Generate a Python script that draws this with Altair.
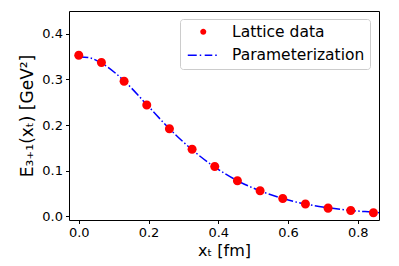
import altair as alt
import pandas as pd

# Lattice data
lat_x = [0.0, 0.065, 0.130, 0.195, 0.260, 0.325, 0.390, 0.455, 0.520, 0.585, 0.650, 0.715, 0.780, 0.845]
lat_y = [0.353, 0.337, 0.296, 0.244, 0.192, 0.147, 0.109, 0.078, 0.056, 0.039, 0.027, 0.018, 0.013, 0.008]

# Parameterization curve
par_x = [0.0, 0.033, 0.065, 0.130, 0.195, 0.260, 0.325, 0.390, 0.455, 0.520, 0.585, 0.650, 0.715, 0.780, 0.845, 0.861]
par_y = [0.350, 0.347, 0.336, 0.297, 0.245, 0.192, 0.146, 0.108, 0.078, 0.056, 0.039, 0.027, 0.019, 0.013, 0.009, 0.008]

series = ["Lattice data", "Parameterization"]
x_ticks = [0.0, 0.1, 0.2, 0.3, 0.4, 0.5, 0.6, 0.7, 0.8]
y_ticks = [0.0, 0.1, 0.2, 0.3, 0.4]

pts = pd.DataFrame({"x": lat_x, "y": lat_y, "series": series[0]})
crv = pd.DataFrame({"x": par_x, "y": par_y})

circle_path = "M-0.43,0A0.43,0.43 0 1,0 0.43,0A0.43,0.43 0 1,0 -0.43,0Z"
h = 0.107
segs = [(-2.21, -0.93), (-0.5, -0.29), (0.21, 1.29), (1.71, 1.93)]
dashdot_path = "".join(f"M{a},{-h}H{b}V{h}H{a}Z" for a, b in segs)

xs = alt.Scale(domain=[-0.028, 0.861], nice=False, zero=False)
ys = alt.Scale(domain=[-0.008, 0.45], nice=False, zero=False)

x_axis = alt.Axis(values=x_ticks, format=".1f", title="xₜ [fm]", grid=False, domain=False,
                  tickSize=3.5, tickColor="black", labelColor="black", labelFontSize=13,
                  labelPadding=3, titleFontSize=16, titleFontWeight="normal", titleColor="black",
                  titlePadding=3, labelFont="DejaVu Sans", titleFont="DejaVu Sans")
y_axis = alt.Axis(values=y_ticks, format=".1f", title="E₃₊₁(xₜ) [GeV²]", grid=False, domain=False,
                  tickSize=3.5, tickColor="black", labelColor="black", labelFontSize=13,
                  labelPadding=3, titleFontSize=17, titleFontWeight="normal", titleColor="black",
                  titlePadding=5, labelFont="DejaVu Sans", titleFont="DejaVu Sans")

line = alt.Chart(crv).mark_line(color="blue", strokeWidth=1.5, strokeDash=[9.6, 2.4, 1.5, 2.4],
                                interpolate="monotone", clip=True).encode(
    x=alt.X("x:Q", scale=xs, axis=x_axis),
    y=alt.Y("y:Q", scale=ys, axis=y_axis),
)

points = alt.Chart(pts).mark_point(filled=True, opacity=1, size=441, strokeWidth=0).encode(
    x=alt.X("x:Q", scale=xs),
    y=alt.Y("y:Q", scale=ys),
    color=alt.Color("series:N", scale=alt.Scale(domain=series, range=["red", "blue"]),
                    legend=alt.Legend(title=None, orient="none", legendX=111, legendY=8, padding=5,
                                      strokeColor="#cccccc", fillColor="white", cornerRadius=3,
                                      labelFontSize=15.5, labelFont="DejaVu Sans", labelColor="black",
                                      symbolSize=196, symbolOffset=10.5, labelOffset=21,
                                      rowPadding=6.5, symbolOpacity=1, symbolStrokeWidth=0)),
    shape=alt.Shape("series:N", scale=alt.Scale(domain=series, range=[circle_path, dashdot_path]),
                    legend=None),
)

chart = alt.layer(line, points).properties(
    width=310, height=209,
    autosize=alt.AutoSizeParams(type="none"),
    padding={"left": 61, "top": 3, "right": 12, "bottom": 45},
).configure_view(stroke="black", strokeWidth=1)

chart.save("out.html", embed_options={"renderer": "svg", "actions": False})
